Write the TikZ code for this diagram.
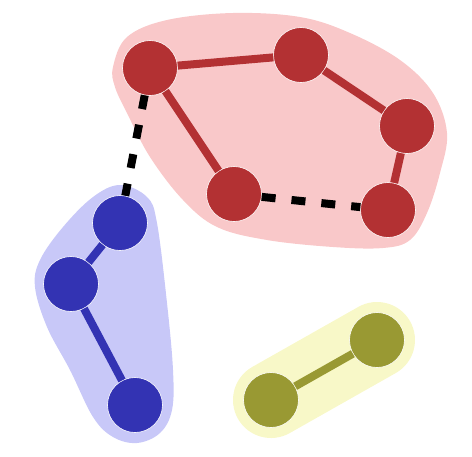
\documentclass[tikz,border=0pt]{standalone}
\begin{document}
\begin{tikzpicture}[x=1pt,y=-1pt,
  vtx/.style={circle, minimum size=55pt, inner sep=0pt, draw=white, line width=0.6pt},
  rv/.style={vtx, fill=nred},
  bv/.style={vtx, fill=nblue},
  ov/.style={vtx, fill=nolive},
  hull/.style={line width=76pt, line join=round, line cap=round},
  edge/.style={line width=8pt},
  dedge/.style={line width=8pt, black, dash pattern=on 14pt off 16pt}]
\definecolor{nred}{HTML}{B33133}
\definecolor{hred}{HTML}{F9C8C9}
\definecolor{nblue}{HTML}{3333B3}
\definecolor{hblue}{HTML}{C8C8F8}
\definecolor{nolive}{HTML}{999933}
\definecolor{holive}{HTML}{F8F8C8}
\useasboundingbox (0,0) rectangle (472,456);
% coordinates
\coordinate (pa) at (150,68);
\coordinate (pb) at (301,55);
\coordinate (pc) at (407,126);
\coordinate (pd) at (388,210);
\coordinate (pe) at (234,194);
\coordinate (q1) at (120,223);
\coordinate (q2) at (71,284);
\coordinate (q3) at (135,405);
\coordinate (o1) at (377,340);
\coordinate (o2) at (271,400);
% hulls
\fill[hred] plot[smooth cycle, tension=0.6] coordinates {
  (113,67) (127,37) (167,20) (233,13) (300,17) (350,33) (400,60) (433,93)
  (447,133) (440,173) (427,213) (410,240) (383,248) (333,247) (267,240)
  (217,227) (183,200) (150,157) (127,113) (115,87)};
\fill[hblue] plot[smooth cycle, tension=0.6] coordinates {
  (120,185) (147,197) (157,223) (167,303) (173,370) (172,410) (160,433)
  (137,443) (113,437) (93,417) (70,370) (47,327) (35,287) (40,260)
  (63,227) (93,197)};
\draw[hull, draw=holive] (o1) -- (o2);
% nodes
\node[rv] (a) at (pa) {};
\node[rv] (b) at (pb) {};
\node[rv] (c) at (pc) {};
\node[rv] (d) at (pd) {};
\node[rv] (e) at (pe) {};
\node[bv] (b1) at (q1) {};
\node[bv] (b2) at (q2) {};
\node[bv] (b3) at (q3) {};
\node[ov] (g1) at (o1) {};
\node[ov] (g2) at (o2) {};
% edges
\draw[edge, nred] (a) -- (b);
\draw[edge, nred] (b) -- (c);
\draw[edge, nred] (c) -- (d);
\draw[edge, nred] (a) -- (e);
\draw[dedge] (e) -- (d);
\draw[dedge] (a) -- (b1);
\draw[edge, nblue] (b1) -- (b2);
\draw[edge, nblue] (b2) -- (b3);
\draw[edge, nolive] (g1) -- (g2);
\end{tikzpicture}
\end{document}
